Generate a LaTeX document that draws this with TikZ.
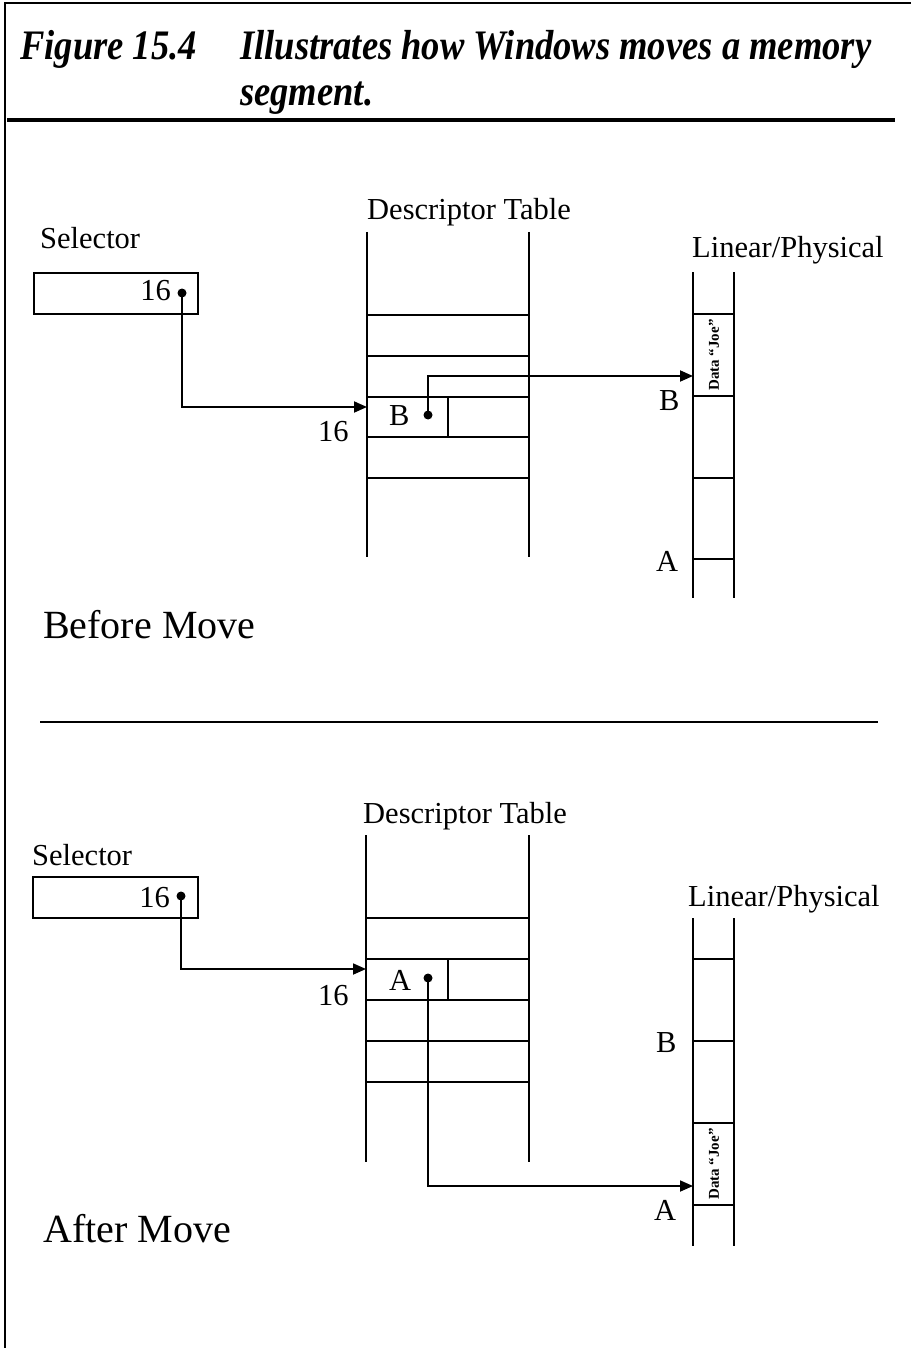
\documentclass[tikz,border=0pt]{standalone}
\usepackage{fontspec}
\setmainfont{Liberation Serif}
\newfontfamily\titlefont[FakeStretch=0.87]{Liberation Serif}
\usetikzlibrary{arrows.meta}
\begin{document}
\begin{tikzpicture}[x=1pt,y=-1pt,
  ln/.style={line width=1.8pt},
  lbl/.style={font=\fontsize{30.5}{36}\selectfont, inner sep=0, anchor=base west},
  big/.style={font=\fontsize{40}{48}\selectfont, inner sep=0, anchor=base west},
  ttl/.style={font=\titlefont\bfseries\itshape\fontsize{42}{48}\selectfont, inner sep=0, anchor=base west},
  dotc/.style={circle, fill=black, inner sep=0, minimum size=9pt},
  arr/.style={ln, -{Triangle[length=13pt,width=11pt]}},
  datatxt/.style={font=\bfseries\fontsize{15}{18}\selectfont, rotate=90, inner sep=0},
  selbox/.style={draw, ln, rectangle, inner sep=0, anchor=north west, minimum height=41pt}
]
\useasboundingbox (0,0) rectangle (911,1348);
% frame
\draw[line width=2.5pt] (5,1348) -- (5,3) -- (911,3);
% title
\node[ttl] (fig) at (20,60) {Figure 15.4};
\node[ttl] (t1) at (240,60) {Illustrates how Windows moves a memory};
\node[ttl] (t2) at (240,106) {segment.};
\draw[line width=3.2pt] (7,120) -- (895,120);

% ================= BEFORE MOVE =================
\node[lbl] (desc1) at (367,220) {Descriptor Table};
\node[lbl] (sel1) at (40,248) {Selector};
\node[selbox, minimum width=164pt] (box1) at (33,272) {};
\node[lbl, anchor=base east] (n1) at (171,300) {16};
\node[dotc] (d1) at (182,293) {};
\node[lbl] (lp1) at (692,258) {Linear/Physical};
% descriptor table
\draw[ln] (367,232) -- (367,557) (529,232) -- (529,557);
\foreach \yy in {315,356,397,437,478} \draw[ln] (367,\yy) -- (529,\yy);
\draw[ln] (448,397) -- (448,437);
\node[lbl] (b1) at (389,425) {B};
\node[dotc] (d2) at (428,415) {};
\node[lbl] (s16a) at (318,441) {16};
\coordinate (in1) at (367,407);
\draw[arr] (d1.center) |- (in1);
% memory
\draw[ln] (693,272) -- (693,598) (734,272) -- (734,598);
\foreach \yy in {314,396,478,559} \draw[ln] (693,\yy) -- (734,\yy);
\node[datatxt] (data1) at (714,355) {Data “Joe”};
\node[lbl] (mb1) at (659,410) {B};
\node[lbl] (ma1) at (656,571) {A};
\coordinate (m1) at (693,376);
\draw[arr] (d2.center) |- (m1);
\node[big] (before) at (43,638) {Before Move};

\draw[line width=2.2pt] (40,722) -- (878,722);

% ================= AFTER MOVE =================
\node[lbl] (desc2) at (363,823) {Descriptor Table};
\node[lbl] (sel2) at (32,865) {Selector};
\node[selbox, minimum width=165pt] (box2) at (32,876) {};
\node[lbl, anchor=base east] (n2) at (170,907) {16};
\node[dotc] (d3) at (181,896) {};
\node[lbl] (lp2) at (688,906) {Linear/Physical};
% descriptor table
\draw[ln] (366,835) -- (366,1162) (529,835) -- (529,1162);
\foreach \yy in {918,959,1000,1041,1082} \draw[ln] (366,\yy) -- (529,\yy);
\draw[ln] (448,959) -- (448,1000);
\node[lbl] (a2) at (389,990) {A};
\node[dotc] (d4) at (428,978) {};
\node[lbl] (s16b) at (318,1005) {16};
\coordinate (in2) at (366,969);
\draw[arr] (d3.center) |- (in2);
% memory
\draw[ln] (693,918) -- (693,1246) (734,918) -- (734,1246);
\foreach \yy in {959,1041,1123,1205} \draw[ln] (693,\yy) -- (734,\yy);
\node[datatxt] (data2) at (714,1164) {Data “Joe”};
\node[lbl] (mb2) at (656,1052) {B};
\node[lbl] (ma2) at (654,1220) {A};
\coordinate (m2) at (693,1186);
\draw[arr] (d4.center) |- (m2);
\node[big] (after) at (43,1242) {After Move};
\end{tikzpicture}
\end{document}
